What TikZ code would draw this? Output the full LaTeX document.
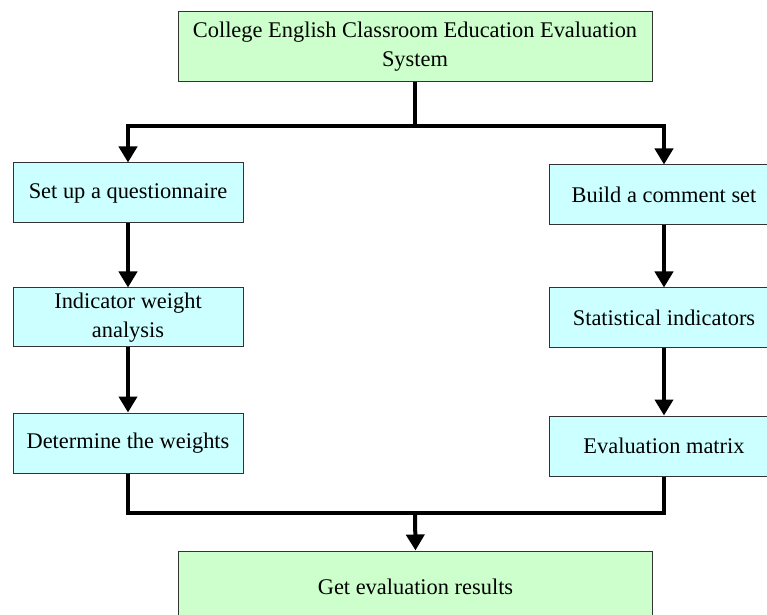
\documentclass[tikz,border=0pt]{standalone}
\usepackage{fontspec}
\setmainfont{Liberation Serif}
\usetikzlibrary{arrows.meta}
\definecolor{topgreen}{RGB}{204,255,204}
\definecolor{stepcyan}{RGB}{204,255,255}
\begin{document}
\begin{tikzpicture}[x=0.5pt, y=-0.5pt, >={Triangle[width=9pt,length=8pt]},
  font=\fontsize{11.2}{14.5}\selectfont, line join=miter,
  box/.style={draw=black!80, line width=0.5pt, fill=stepcyan, align=center,
    minimum width=115pt, minimum height=30pt, inner sep=2pt},
  mainbox/.style={box, fill=topgreen, minimum width=237pt, minimum height=35pt},
  conn/.style={line width=2pt, draw=black}]
\def\W{767} \def\H{615}
\def\xl{128} \def\xr{664} \def\xm{415}
\useasboundingbox (0,0) rectangle (\W,\H);
\clip (0,0) rectangle (\W,\H);
% Boxes
\node[mainbox] (sys) at (\xm,47) {College English Classroom Education Evaluation\\System};
\node[box] (quest) at (\xl,193) {Set up a questionnaire};
\node[box, minimum height=29.5pt] (weight) at (\xl,317.5) {Indicator weight\\analysis};
\node[box] (determ) at (\xl,443) {Determine the weights};
\node[box] (comment) at (\xr,195) {Build a comment set};
\node[box] (stat) at (\xr,318) {Statistical indicators};
\node[box] (matrix) at (\xr,446) {Evaluation matrix};
\node[mainbox, minimum height=36pt] (result) at (415.5,587) {Get evaluation results};
% Connectors
\coordinate (split) at (\xm,126);
\coordinate (merge) at (\xm,513);
\draw[conn] (sys.south) -- (split);
\draw[conn,->] (split) -| (quest.north);
\draw[conn,->] (split) -| (comment.north);
\draw[conn,->] (quest) -- (weight);
\draw[conn,->] (weight) -- (determ);
\draw[conn,->] (comment) -- (stat);
\draw[conn,->] (stat) -- (matrix);
\draw[conn] (determ.south) |- (merge);
\draw[conn] (matrix.south) |- (merge);
\draw[conn,->] (merge) -- (result.north);
\end{tikzpicture}
\end{document}
